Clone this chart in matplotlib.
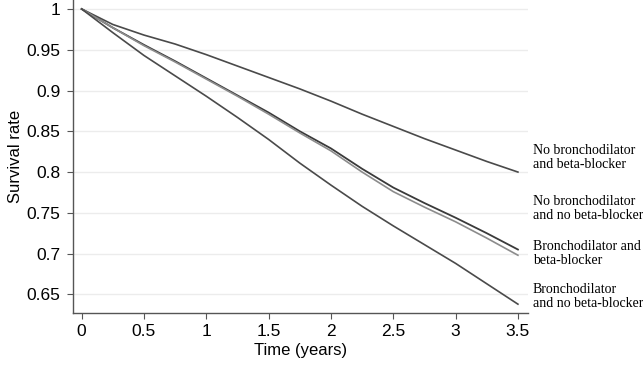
import matplotlib
matplotlib.use("Agg")
import matplotlib.pyplot as plt
import numpy as np

plt.rcParams["font.family"] = ["Liberation Sans", "DejaVu Sans"]

# Survival curves (time in years)
time_pts = [0, 0.25, 0.5, 0.75, 1.0, 1.25, 1.5, 1.75, 2.0, 2.25, 2.5, 2.75, 3.0, 3.25, 3.5]
no_bd_bb = [1.0, 0.981, 0.968, 0.957, 0.944, 0.930, 0.916, 0.902, 0.887, 0.871, 0.856, 0.841, 0.827, 0.813, 0.800]
no_bd_no_bb = [1.0, 0.977, 0.956, 0.936, 0.915, 0.894, 0.873, 0.850, 0.829, 0.804, 0.781, 0.762, 0.744, 0.725, 0.705]
bd_bb = [1.0, 0.977, 0.955, 0.935, 0.914, 0.893, 0.871, 0.848, 0.826, 0.800, 0.776, 0.757, 0.739, 0.719, 0.698]
bd_no_bb = [1.0, 0.971, 0.943, 0.918, 0.893, 0.867, 0.840, 0.811, 0.784, 0.758, 0.734, 0.711, 0.688, 0.663, 0.638]

labels = [
    "No bronchodilator\nand beta-blocker",
    "No bronchodilator\nand no beta-blocker",
    "Bronchodilator and\nbeta-blocker",
    "Bronchodilator\nand no beta-blocker",
]
label_y = [0.818, 0.755, 0.700, 0.648]

fig = plt.figure(figsize=(6.43, 3.65), dpi=100)
ax = fig.add_axes([0.113, 0.143, 0.708, 0.857])

ax.plot(time_pts, no_bd_bb, color="#4a4a4a", lw=1.2)
ax.plot(time_pts, no_bd_no_bb, color="#3a3a3a", lw=1.3)
ax.plot(time_pts, bd_bb, color="#8c8c8c", lw=1.2)
ax.plot(time_pts, bd_no_bb, color="#4a4a4a", lw=1.2)

ax.set_xlim(-0.072, 3.58)
ax.set_ylim(0.6274, 1.011)
ax.set_xticks([0, 0.5, 1, 1.5, 2, 2.5, 3, 3.5])
ax.set_xticklabels(["0", "0.5", "1", "1.5", "2", "2.5", "3", "3.5"])
ax.set_yticks([0.65, 0.7, 0.75, 0.8, 0.85, 0.9, 0.95, 1.0])
ax.set_yticklabels(["0.65", "0.7", "0.75", "0.8", "0.85", "0.9", "0.95", "1"])
ax.grid(axis="y", color="#ececec", lw=1.0)
ax.set_axisbelow(True)

for s in ["top", "right"]:
    ax.spines[s].set_visible(False)
for s in ["left", "bottom"]:
    ax.spines[s].set_color("#555555")
    ax.spines[s].set_linewidth(1.0)
ax.tick_params(direction="out", length=4, color="#555555", labelsize=12.5)
ax.tick_params(axis="x", pad=4)
ax.tick_params(axis="y", pad=5)

ax.set_xlabel("Time (years)", fontsize=12, labelpad=3)
ax.set_ylabel("Survival rate", fontsize=12, labelpad=2)

for txt, y in zip(labels, label_y):
    ax.text(3.62, y, txt, family="Liberation Serif", fontsize=10,
            va="center", ha="left", linespacing=1.1, clip_on=False)

fig.savefig("out.png", dpi=100)
